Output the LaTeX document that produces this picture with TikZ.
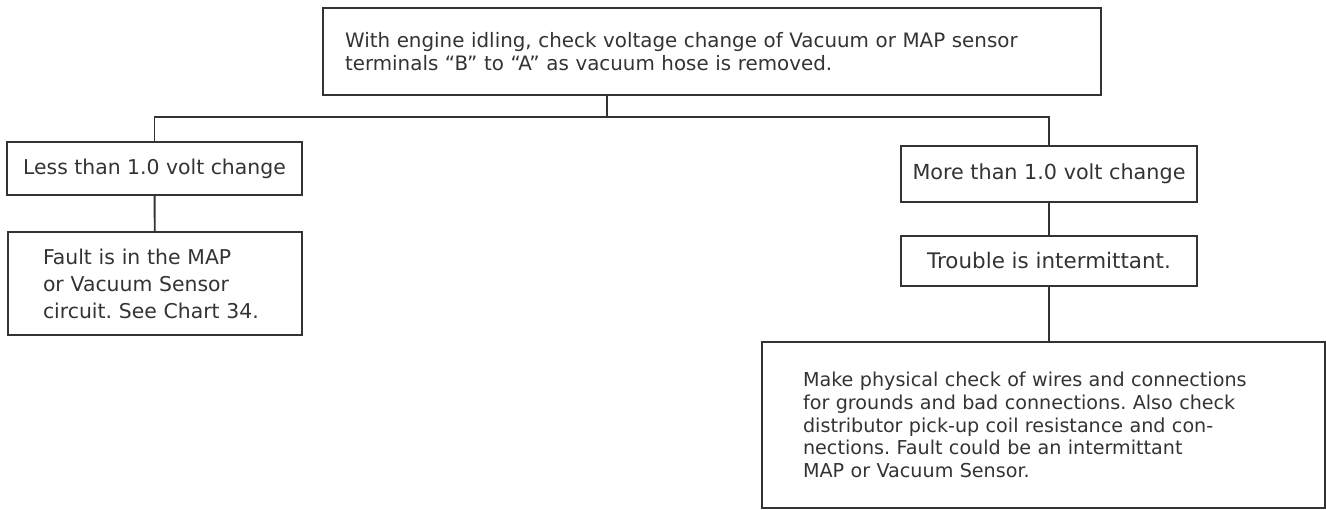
\documentclass[tikz,border=0pt]{standalone}
\usepackage{fontspec}
\setmainfont{DejaVu Sans}
\frenchspacing
\begin{document}
\begin{tikzpicture}[x=0.02cm,y=-0.02cm,
  box/.style={draw=black!80,line width=1.1pt,text=black!80,inner sep=0pt},
  link/.style={draw=black!80,line width=1.1pt}]
\useasboundingbox (0,0) rectangle (1326,510);
% Boxes
\node[box,text width=14.68cm,inner xsep=0.44cm,minimum height=1.74cm,align=left,
  font=\fontsize{11.3}{13}\selectfont] (check) at (712,51.5)
  {With engine idling, check voltage change of Vacuum or MAP sensor\\
   terminals “B” to “A” as vacuum hose is removed.\\[-2pt]};
\node[box,minimum width=5.9cm,minimum height=1.06cm,
  font=\fontsize{11.6}{13}\selectfont] (less) at (154.5,168.5)
  {Less than 1.0 volt change};
\node[box,text width=4.48cm,inner xsep=0.7cm,minimum height=2.06cm,align=left,
  font=\fontsize{11.6}{15.4}\selectfont] (fault) at (155,283.5)
  {Fault is in the MAP\\ or Vacuum Sensor\\ circuit. See Chart 34.};
\node[box,minimum width=5.92cm,minimum height=1.12cm,
  font=\fontsize{11.8}{13}\selectfont] (more) at (1049,174)
  {More than 1.0 volt change};
\node[box,minimum width=5.92cm,minimum height=1.0cm,
  font=\fontsize{12.2}{13}\selectfont] (trouble) at (1049,261)
  {Trouble is intermittant.};
\node[box,text width=9.62cm,inner xsep=0.82cm,minimum height=3.32cm,align=left,
  font=\fontsize{10.9}{13}\selectfont] (make) at (1043.5,425)
  {Make physical check of wires and connections\\
   for grounds and bad connections. Also check\\
   distributor pick-up coil resistance and con-\\
   nections. Fault could be an intermittant\\
   MAP or Vacuum Sensor.};
% Connect boxes
\coordinate (hub) at (607,117);
\draw[link] (hub |- check.south) -- (hub);
\draw[link] (less.north) |- (hub) -| (more.north);
\draw[link] (less) -- (fault);
\draw[link] (more) -- (trouble);
\draw[link] (trouble.south) -- (trouble.south |- make.north);
\end{tikzpicture}
\end{document}
